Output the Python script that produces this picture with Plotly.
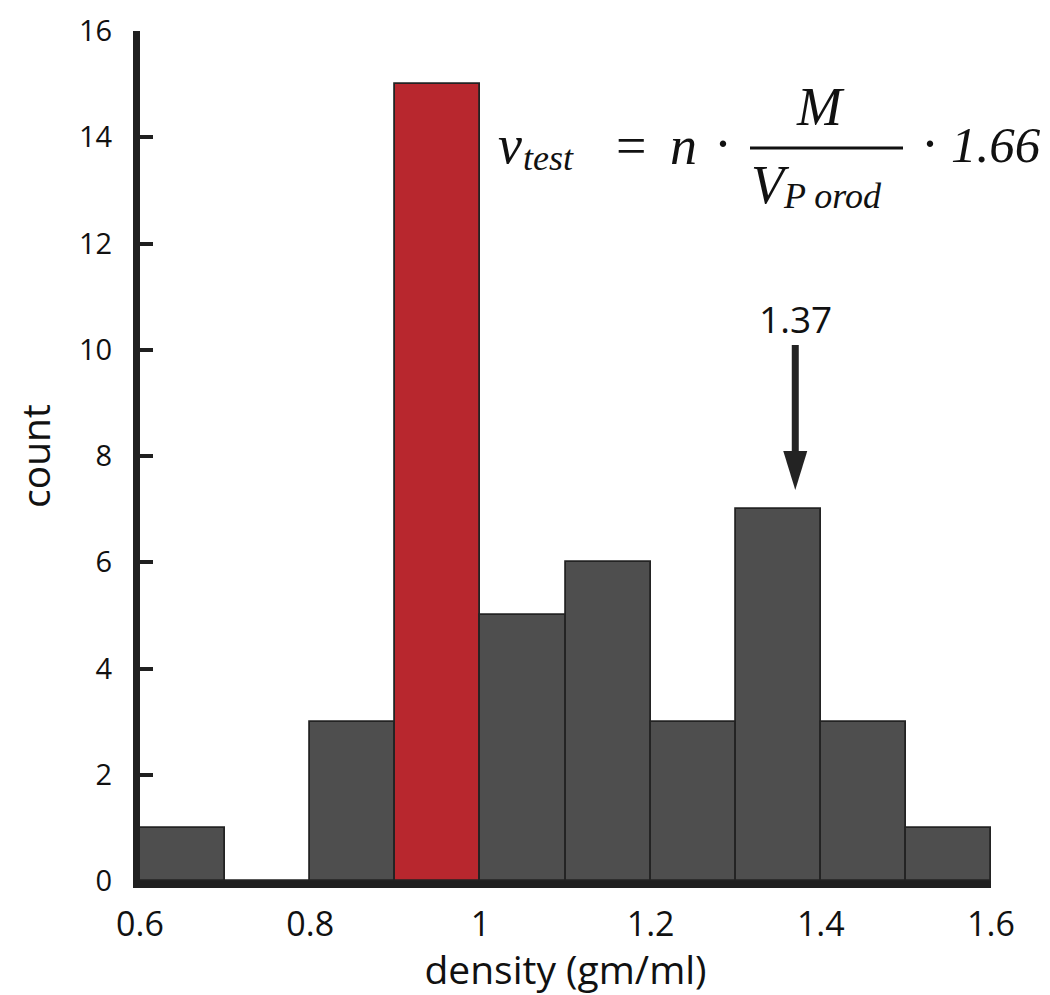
import plotly.graph_objects as go

# ---- data ----
bin_edges = [0.6, 0.7, 0.8, 0.9, 1.0, 1.1, 1.2, 1.3, 1.4, 1.5, 1.6]
counts = [1, 0, 3, 15, 5, 6, 3, 7, 3, 1]
highlight_bin = 3  # the 0.9-1.0 bin drawn in red
x_tick_vals = [0.6, 0.8, 1.0, 1.2, 1.4, 1.6]
x_tick_text = ["0.6", "0.8", "1", "1.2", "1.4", "1.6"]
y_tick_vals = [0, 2, 4, 6, 8, 10, 12, 14, 16]
peak_density = 1.37
peak_label = "1.37"
arrow_tip_count = 7.36
arrow_top_count = 10.09
label_count = 10.58

# ---- style / layout ----
OFF = 8                      # page body margin
W, H = 1050 - OFF, 995 - OFF
L, R, T, B = 140 - OFF, 59, 31 - OFF, 114
PW, PH = W - L - R, H - T - B
X0, X1 = 0.6, 1.6
Y0, Y1 = 0, 16
GRAY = "#4e4e4e"
RED = "#b8272e"
EDGE = "#232323"
AX = "#202020"
SANS = "Open Sans"
SERIF = "Liberation Serif"


def px2x(px):
    # page pixel -> paper x
    return (px - OFF - L) / PW


def py2y(py):
    # page pixel -> paper y
    return (T + PH - (py - OFF)) / PH


centers = [(a + b) / 2 for a, b in zip(bin_edges[:-1], bin_edges[1:])]
widths = [b - a for a, b in zip(bin_edges[:-1], bin_edges[1:])]
colors = [RED if i == highlight_bin else GRAY for i in range(len(counts))]

fig = go.Figure()
fig.add_trace(go.Bar(
    x=centers, y=counts, width=widths,
    marker=dict(color=colors, line=dict(color=EDGE, width=1.8)),
    showlegend=False, hoverinfo="x+y",
))

fig.update_layout(
    width=W, height=H,
    margin=dict(l=L, r=R, t=T, b=B, pad=0),
    paper_bgcolor="white", plot_bgcolor="white",
    bargap=0,
    font=dict(family=SANS, color="#111111"),
)
fig.update_xaxes(
    range=[X0, X1], tickvals=x_tick_vals, ticktext=x_tick_text,
    ticks="", showline=True, linewidth=7, linecolor=AX,
    showgrid=False, zeroline=False, automargin=False,
    tickfont=dict(family=SANS, size=34, color="#111111"),
    ticklabelstandoff=7,
    title=dict(text="density (gm/ml)", font=dict(family=SANS, size=39, color="#111111"), standoff=12),
)
fig.update_yaxes(
    range=[Y0, Y1], tickvals=y_tick_vals,
    ticks="inside", ticklen=13, tickwidth=4, tickcolor=AX,
    showline=True, linewidth=7, linecolor=AX,
    showgrid=False, zeroline=False, automargin=False,
    tickfont=dict(family=SANS, size=29, color="#111111"),
    ticklabelstandoff=15,
    title=dict(text="count", font=dict(family=SANS, size=39, color="#111111"), standoff=19),
)

# ---- arrow marking the peak ----
head_len = 39 / PH * (Y1 - Y0)
head_half = 12 / PW * (X1 - X0)
fig.add_shape(type="line", xref="x", yref="y",
              x0=peak_density, x1=peak_density,
              y0=arrow_top_count, y1=arrow_tip_count + head_len * 0.9,
              line=dict(color="#232323", width=7))
fig.add_shape(type="path", xref="x", yref="y",
              path=(f"M {peak_density - head_half} {arrow_tip_count + head_len} "
                    f"L {peak_density + head_half} {arrow_tip_count + head_len} "
                    f"L {peak_density} {arrow_tip_count} Z"),
              fillcolor="#232323", line=dict(color="#232323", width=0))
fig.add_annotation(x=peak_density, y=label_count, xref="x", yref="y",
                   text=peak_label, showarrow=False,
                   font=dict(family=SANS, size=37, color="#111111"),
                   xanchor="center", yanchor="middle")

# ---- formula ----
def formula_piece(text, cx, baseline, size, anchor="center"):
    cy = baseline - 0.3375 * size
    fig.add_annotation(x=px2x(cx), y=py2y(cy), xref="paper", yref="paper",
                       text=text, showarrow=False,
                       font=dict(family=SERIF, size=size, color="#111111"),
                       xanchor=anchor, yanchor="middle")


formula_piece("<i>v</i>", 510, 163, 54)
formula_piece("<i>test</i>", 548, 170, 36)
formula_piece("=", 631, 164, 54)
formula_piece("<i>n</i>", 683, 164, 54)
formula_piece("·", 723, 162, 54)
formula_piece("<i>M</i>", 820, 125, 54)
formula_piece("<i>V</i>", 770, 203, 54)
formula_piece("<i>P orod</i>", 832, 208, 36)
formula_piece("·", 930, 162, 54)
formula_piece("<i>1.66</i>", 996, 162, 51)
fig.add_shape(type="line", xref="paper", yref="paper",
              x0=px2x(750), x1=px2x(903), y0=py2y(148), y1=py2y(148),
              line=dict(color="#111111", width=3))

fig.write_html("out.html")
